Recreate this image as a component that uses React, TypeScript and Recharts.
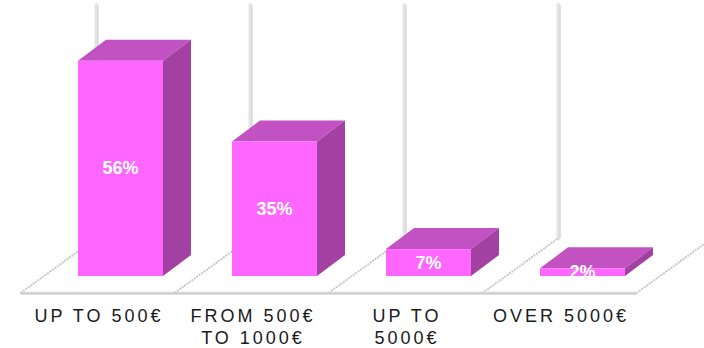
import { BarChart, Bar, XAxis, YAxis, LabelList } from "recharts";

const categories = ["UP TO 500€", "FROM 500€\nTO 1000€", "UP TO\n5000€", "OVER 5000€"];
const shares = [56, 35, 7, 2];
const valueDomain = [0, 70];

const data = categories.map((range, i) => ({ range, share: shares[i] }));

// 3d look
const DX = 28;
const DY = -21;
const FRONT = "#ff66ff";
const TOP = "#c251c2";
const SIDE = "#a341a3";
const CELL = 154;
const FONT = "'Liberation Sans', Arial, Helvetica, sans-serif";

const Box = (props: any) => {
  const { x, y, width, height } = props;
  if (height == null || width == null) return null;
  const r = x + width;
  const b = y + height;
  return (
    <g>
      <polygon
        points={`${x},${y} ${x + DX},${y + DY} ${r + DX},${y + DY} ${r},${y}`}
        fill={TOP}
      />
      <polygon
        points={`${r},${y} ${r + DX},${y + DY} ${r + DX},${b + DY} ${r},${b}`}
        fill={SIDE}
      />
      <rect x={x} y={y} width={width} height={height} fill={FRONT} />
    </g>
  );
};

const Floor = (props: any) => {
  const { x, y, width, height, index } = props;
  const center = x + width / 2;
  const base = y + height;
  const frontY = base + 17;
  const backY = base - 38;
  const fl = center - 100;
  const bl = fl + 76;
  const last = index === categories.length - 1;
  return (
    <g>
      <line x1={bl} y1={y - 2} x2={bl} y2={backY} stroke="#e4e4e4" strokeWidth={4} strokeLinecap="round" />
      <line x1={bl + 1.5} y1={y - 1} x2={bl + 1.5} y2={backY} stroke="#d2d2d2" strokeWidth={1} />
      <line x1={fl} y1={frontY} x2={bl} y2={backY} stroke="#c8c8c8" strokeWidth={2} strokeDasharray="2 1" />
      {last && (
        <line x1={fl + CELL} y1={frontY} x2={bl + CELL} y2={backY} stroke="#c8c8c8" strokeWidth={2} strokeDasharray="2 1" />
      )}
      <line x1={fl} y1={frontY - 1} x2={fl + CELL} y2={frontY - 1} stroke="#e6e6e6" strokeWidth={1} />
      <line x1={fl} y1={frontY + 0.5} x2={fl + CELL} y2={frontY + 0.5} stroke="#c8c8c8" strokeWidth={2} />
    </g>
  );
};

const ValueLabel = (props: any) => {
  const { x, y, width, height, value, index } = props;
  const id = `clip-val-${index}`;
  return (
    <g>
      <defs>
        <clipPath id={id}>
          <rect x={x - 10} y={0} width={width + 20} height={y + height} />
        </clipPath>
      </defs>
      <text
        x={x + width / 2}
        y={y + height / 2}
        dy={6}
        textAnchor="middle"
        fill="#ffffff"
        fontFamily={FONT}
        fontWeight="bold"
        fontSize={18}
        clipPath={`url(#${id})`}
      >
        {value}%
      </text>
    </g>
  );
};

const RangeTick = (props: any) => {
  const { x, y, payload } = props;
  const lines = String(payload.value).split("\n");
  const cx = x - 23.5 + 2.5;
  return (
    <text
      x={cx}
      y={y + 46}
      textAnchor="middle"
      fill="#1a1a1a"
      fontFamily={FONT}
      fontSize={18}
      letterSpacing={3}
    >
      {lines.map((line, i) => (
        <tspan key={i} x={cx} dy={i === 0 ? 0 : 22}>
          {line}
        </tspan>
      ))}
    </text>
  );
};

const App = () => {
  return (
    <div style={{ position: "absolute", left: 0, top: 0 }}>
      <BarChart
        width={704}
        height={348}
        data={data}
        margin={{ top: 7, right: 45, bottom: 0, left: 43 }}
      >
        <XAxis
          dataKey="range"
          height={72}
          axisLine={false}
          tickLine={false}
          tickSize={0}
          tickMargin={0}
          interval={0}
          tick={<RangeTick />}
        />
        <YAxis hide domain={valueDomain} />
        <Bar
          dataKey="share"
          barSize={85}
          isAnimationActive={false}
          background={(p: any) => <Floor key={`floor-${p.index}`} {...p} />}
          shape={(p: any) => <Box {...p} />}
        >
          <LabelList dataKey="share" content={<ValueLabel />} />
        </Bar>
      </BarChart>
    </div>
  );
};

export default App;
